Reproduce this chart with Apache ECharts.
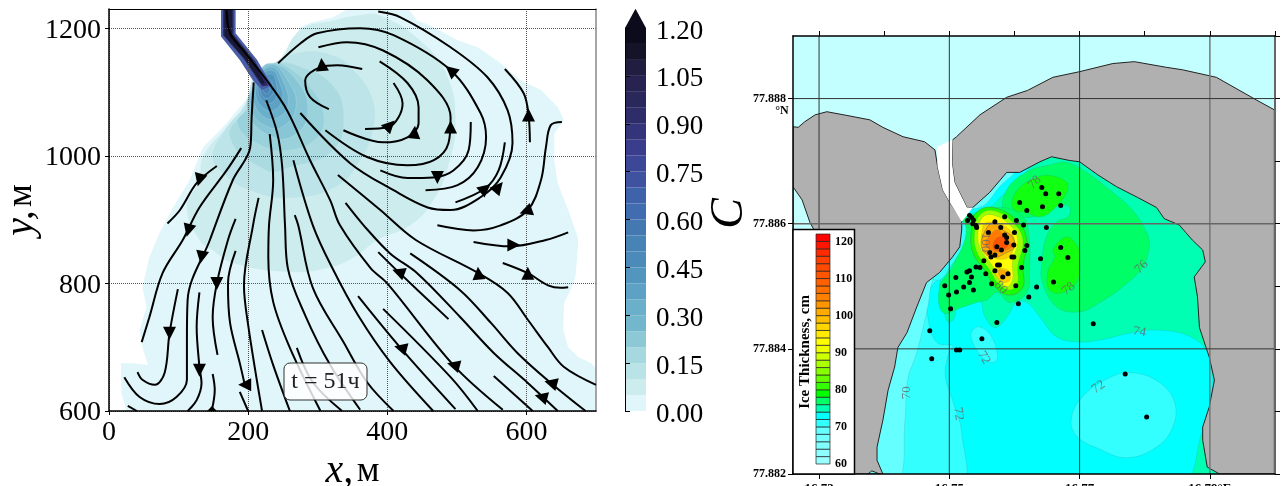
<!DOCTYPE html>
<html><head><meta charset="utf-8">
<style>html,body{margin:0;padding:0;background:#fff}#c{width:1283px;height:486px}</style>
<script src="https://cdn.jsdelivr.net/npm/echarts@6/dist/echarts.min.js"></script>
</head><body><div id="c"></div>
<script>
const SERIF='"Liberation Serif","Times New Roman",serif';
/* ---------- left panel: tracer field and streamlines, in metres ---------- */
const xTicks=[0,200,400,600];
const yTicks=[600,800,1000,1200];
const cbBandColors=['#e0f6fa','#cdecee','#bae3e7','#a6d9df','#8dc9d5','#73b7cc','#6ab0ca','#5da2c4','#5295bf','#4c8bb9','#4783b5','#4478b0','#416db0','#3f63ab','#3f52a0','#3d4798','#3a3d8b','#33347a','#2e2d6a','#2a285a','#262350','#1f1d40','#141428','#0b0b1c'];
const cbEdges=[0,.05,.1,.15,.2,.25,.3,.35,.4,.45,.5,.55,.6,.65,.7,.75,.8,.85,.9,.95,1,1.05,1.1,1.15,1.2];
const fieldOutline=[[289,1208],[322,1217],[347,1232],[429,1232],[443,1212],[462,1204],[501,1181],[530,1170],[563,1145],[592,1118],[621,1103],[645,1076],[654,1056],[640,1035],[640,993],[645,957],[660,915],[674,872],[674,857],[671,816],[668,800],[654,769],[653,727],[660,700],[674,685],[693,675],[702,664],[702,600],[25,600],[18,628],[17,675],[34,675],[56,672],[48,700],[44,727],[54,763],[48,794],[58,841],[73,880],[92,919],[116,962],[135,1013],[169,1051],[200,1092],[213,1131],[242,1145],[275,1201]];
const fieldLevels=[
 {c:'#cdecee',p:[[357,1220],[390,1220],[452,1176],[487,1123],[498,1051],[487,982],[466,930],[433,891],[386,868],[351,840],[314,824],[260,818],[178,832],[149,852],[130,868],[112,919],[130,962],[135,998],[169,1045],[200,1087],[213,1131],[242,1145],[275,1197],[322,1212]]},
 {c:'#bde4e8',p:[[236,1145],[275,1162],[322,1157],[354,1131],[379,1087],[379,1040],[361,993],[325,951],[256,934],[203,946],[167,970],[149,998],[167,1040],[195,1079],[210,1126]]},
 {c:'#abdbe1',p:[[242,1145],[275,1139],[318,1114],[337,1067],[322,1009],[256,981],[227,977],[174,1029],[200,1079],[214,1126]]},
 {c:'#9ad2dc',p:[[236,1145],[256,1139],[289,1107],[308,1067],[299,1029],[256,1009],[213,1020],[185,1051],[203,1079],[214,1126]]},
 {c:'#88c6d6',p:[[231,1145],[270,1118],[286,1071],[270,1035],[236,1029],[200,1067],[211,1118]]},
 {c:'#7abcd1',p:[[234,1143],[257,1118],[269,1079],[253,1048],[229,1045],[205,1071],[211,1118]]},
 {c:'#6ab0ca',p:[[234,1139],[251,1115],[257,1079],[243,1060],[224,1060],[208,1087],[214,1121]]},
 {c:'#5da2c4',p:[[234,1134],[246,1112],[249,1087],[237,1071],[223,1074],[211,1095],[217,1121]]},
 {c:'#5295bf',p:[[234,1128],[241,1110],[241,1092],[231,1082],[220,1087],[214,1103],[218,1118]]},
 {c:'#4c8bb9',p:[[229,1121],[236,1107],[234,1095],[226,1090],[218,1099],[220,1112]]},
 {c:'#4783b5',p:[[229,1115],[231,1106],[229,1098],[223,1099],[221,1109]]}
];
const riverBands=[
 {c:'#4a5ea8',p:[[161,1232],[182,1232],[182,1192],[213,1150],[234,1110],[220,1103],[207,1118],[188,1150],[161,1187]]},
 {c:'#2a2a66',p:[[164,1232],[179,1232],[179,1190],[210,1148],[229,1110],[220,1109],[193,1153],[164,1189]]},
 {c:'#191935',p:[[166,1232],[177,1232],[177,1190],[206,1150],[224,1114],[220,1112],[195,1152],[166,1188]]}
];
const streamlines=[
 [[169,1228],[174,1192],[193,1165],[227,1118],[256,1071],[289,993],[318,930],[332,891],[376,824],[400,800],[495,672],[566,602]],
 [[275,1067],[347,988],[409,946],[458,919],[491,915],[534,935],[563,966],[580,1020],[573,1071],[544,1123],[491,1170],[419,1217],[387,1226]],
 [[243,1145],[275,1176],[299,1192],[361,1200],[409,1189],[491,1134],[534,1067],[542,1029],[530,982],[501,954],[455,946]],
 [[301,1170],[342,1178],[394,1165],[458,1118],[491,1060],[488,1020],[467,993],[429,985],[371,998],[311,1040]],
 [[389,1148],[429,1114],[445,1076],[445,1051],[429,1029],[394,1021],[337,1040]],
 [[409,1114],[422,1082],[416,1060],[402,1045],[368,1042]],
 [[364,1136],[328,1142],[304,1139],[282,1118],[289,1092],[316,1073]],
 [[520,1053],[517,1009],[495,977],[466,966],[429,965],[390,977]],
 [[569,1021],[560,977],[541,949],[498,927]],
 [[569,1136],[596,1098],[603,1064],[605,1021]],
 [[651,1053],[635,1048],[628,1013],[621,962],[602,915],[563,891],[524,883],[472,891]],
 [[524,865],[577,858],[628,868],[660,880]],
 [[155,984],[126,957],[102,915],[84,894]],
 [[190,1012],[169,977],[130,919],[106,868],[77,816],[58,747],[47,708]],
 [[208,1115],[205,1060],[203,1013],[178,962],[145,868],[113,774],[112,711],[112,649],[97,622],[73,611],[44,622],[22,653]],
 [[226,1087],[242,1035],[249,982],[253,891],[257,824],[282,750],[318,672],[361,602]],
 [[231,1034],[236,962],[230,891],[229,840],[236,771],[260,699],[304,600]],
 [[182,901],[171,868],[155,800],[149,747],[156,688]],
 [[215,934],[207,891],[194,797],[200,735],[220,600]],
 [[182,851],[171,800],[174,738],[188,675],[195,642]],
 [[99,791],[87,722],[80,660],[66,641],[48,649],[41,661]],
 [[130,786],[126,732],[130,669],[133,644],[126,617],[113,600]],
 [[149,658],[152,633],[148,602]],
 [[188,630],[200,600]],
 [[27,608],[40,600]],
 [[220,727],[236,672],[260,600]],
 [[270,699],[293,645],[335,600]],
 [[267,907],[272,891],[293,793],[337,708],[371,645],[409,600]],
 [[265,993],[293,891],[321,824],[358,750],[404,677],[466,600]],
 [[358,780],[419,699],[498,603]],
 [[394,760],[491,653],[530,600]],
 [[387,849],[416,818],[488,744]],
 [[340,926],[366,891],[404,847],[443,816],[505,747],[553,691],[602,644],[645,600]],
 [[433,847],[505,789],[549,738],[587,691],[635,644],[685,600]],
 [[329,970],[390,915],[441,868],[531,816],[573,785],[602,743],[631,700],[654,669],[700,641]],
 [[566,832],[602,816],[631,797],[649,793],[660,794]],
 [[553,655],[609,600]]
];
const arrows=[[306,1143,5],[491,1134,50],[491,1045,0],[439,1037,-5],[404,1048,-45],[472,966,180],[541,949,-50],[560,951,-40],[603,1064,0],[599,913,110],[582,860,-90],[602,816,0],[531,816,5],[416,818,70],[419,699,75],[495,672,75],[635,644,75],[621,622,75],[130,962,165],[114,883,165],[133,841,170],[155,800,180],[87,722,180],[130,664,180],[195,641,90]];
const clippedArrow=[[141,600],[155,600],[148,608]];
/* ---------- right panel: map values as offsets: lon = 16.7 + a/1e4, lat = 77.88 + n/1e5 ---------- */
const lonTicks=[16.73,16.75,16.77,16.79];
const lonMinor=[16.73,16.74,16.75,16.76,16.77,16.78,16.79,16.8];
const latTicks=[77.882,77.884,77.886,77.888];
const latMinor=[77.882,77.883,77.884,77.885,77.886,77.887,77.888,77.889];
const seaArea=[[260,200],[999,200],[999,900],[260,900]];
const landWestTop=[[260,755],[268,754],[278,763],[294,774],[312,779],[343,773],[378,766],[398,754],[429,739],[462,731],[478,718],[482,691],[490,654],[501,634],[519,606]];
const coastWest=[[398,200],[389,222],[389,243],[398,286],[406,334],[416,371],[421,402],[435,426],[450,467],[465,506],[485,522],[505,547],[516,563],[519,590]];
const coastEast=[[536,626],[562,650],[588,682],[608,682],[639,699],[657,707],[685,701],[700,699],[728,678],[757,659],[789,642],[818,626],[830,608],[853,598],[873,574],[889,558],[893,539],[876,515],[881,483],[884,434],[899,387],[907,350],[899,307],[889,275],[889,254],[896,211],[915,200]];
const landEastTop=[[505,734],[511,739],[547,774],[588,802],[620,813],[659,834],[700,843],[751,856],[784,859],[833,850],[858,846],[910,834],[971,798],[999,782],[999,200]];
const landEastInner=[[527,626],[508,666],[504,698]];
const westBay=[[260,659],[274,638],[286,602],[294,587],[260,587]];
const channel=[[481,723],[505,734],[504,698],[508,666],[527,626],[536,626],[519,603],[501,634],[490,654],[482,691]];
const bottomPatch=[[375,200],[381,205],[393,200]];
const iceRegions=[
 {c:'#00ffff',p:[[340,180],[340,318],[390,480],[470,540],[493,534],[485,502],[490,470],[498,443],[508,450],[511,478],[524,485],[547,478],[554,453],[570,434],[588,450],[603,474],[619,474],[639,451],[665,419],[700,411],[731,414],[781,426],[818,430],[864,422],[895,398],[904,362],[902,318],[889,270],[849,180]]},
 {c:'#33ffff',p:[[516,180],[519,266],[505,318],[494,355],[498,390],[505,405],[481,410],[467,451],[470,494],[485,515],[504,546],[470,542],[363,318],[363,180]]},
 {c:'#66ffff',p:[[419,180],[432,286],[436,350],[450,394],[467,467],[475,510],[496,539],[470,550],[363,318],[363,180]]},
 {c:'#33ffff',p:[[534,427],[547,435],[565,419],[574,387],[567,378],[551,386],[536,410]]},
 {c:'#33ffff',p:[[687,286],[704,323],[746,354],[781,362],[823,346],[846,314],[843,275],[818,243],[772,226],[726,242],[697,259]]},
 {c:'#33ffff',p:[[505,498],[516,498],[522,483],[513,478]]},
 {c:'#33ffff',p:[[553,502],[562,506],[567,490],[558,483]]},
 {c:'#00ffff',p:[[528,619],[577,686],[623,694],[605,667],[582,646],[562,626],[539,614]]},
 {c:'#66ffff',p:[[534,626],[577,683],[600,683],[577,659],[554,630]]},
 {c:'#00ff66',p:[[588,654],[619,683],[654,694],[680,698],[711,682],[751,650],[781,622],[803,586],[807,563],[797,531],[766,499],[731,474],[700,459],[665,467],[643,506],[642,538],[649,579],[665,603],[682,611],[685,626],[666,630],[646,619],[623,610],[585,619]]},
 {c:'#00ff66',p:[[573,626],[614,610],[623,570],[623,526],[619,490],[593,474],[574,490],[557,478],[542,474],[519,466],[490,458],[485,499],[505,531],[521,579],[516,602]]},
 {c:'#33ffff',p:[[513,603],[525,598],[521,566],[501,530],[485,510],[470,518]]},
 {c:'#11ff11',p:[[596,635],[608,658],[634,674],[654,677],[680,666],[680,650],[659,622],[639,611],[619,618],[600,622]]},
 {c:'#11ff11',p:[[659,558],[680,579],[697,563],[700,547],[697,510],[674,490],[654,494],[651,522],[662,547]]},
 {c:'#1aff00',s:'#44aa44',p:[[534,590],[542,618],[567,626],[603,606],[619,574],[613,531],[613,499],[593,486],[570,499],[557,522],[536,554]]},
 {c:'#99ff00',p:[[539,590],[547,614],[567,621],[597,603],[613,574],[605,531],[605,506],[593,494],[574,506],[562,526],[542,555]]},
 {c:'#ffff00',p:[[544,586],[551,610],[567,614],[593,598],[605,574],[597,538],[597,510],[588,499],[577,510],[567,531],[547,562]]},
 {c:'#ffd000',p:[[550,586],[557,602],[588,594],[600,571],[590,546],[567,546],[551,563]]},
 {c:'#ffd000',p:[[570,526],[590,526],[593,510],[580,507]]},
 {c:'#ffaa00',s:'#887733',p:[[551,579],[567,602],[582,590],[597,579],[600,563],[588,554],[567,546],[551,558]]},
 {c:'#ffaa00',p:[[576,526],[587,523],[585,512],[577,517]]},
 {c:'#ff7a00',p:[[562,581],[574,590],[590,574],[596,563],[585,557],[570,555],[556,566]]},
 {c:'#ff5500',p:[[570,574],[582,579],[590,566],[580,558],[568,560]]}
];
const samplePoints=[[642,658],[648,648],[668,648],[608,634],[643,627],[671,629],[619,621],[585,611],[603,605],[570,603],[614,598],[649,594],[579,594],[560,586],[600,586],[585,582],[588,578],[588,570],[619,565],[599,566],[573,563],[671,562],[616,557],[580,558],[562,554],[564,547],[570,550],[596,547],[599,547],[682,546],[640,544],[553,541],[574,534],[577,534],[541,531],[547,530],[611,530],[531,525],[527,523],[570,525],[590,520],[556,520],[534,515],[582,515],[510,514],[531,506],[565,504],[660,507],[602,501],[493,501],[634,499],[522,499],[537,494],[511,491],[499,486],[622,483],[606,472],[502,464],[573,442],[721,440],[470,429],[550,416],[473,384],[511,398],[516,398],[770,360],[803,291],[528,605],[534,610],[537,606],[536,600],[541,597],[542,594],[531,613]];
const contourLabels=[['70',435,330,90],['72',514,296,-80],['72',553,386,-60],['80',579,498,-50],['100',556,570,-90],['78',631,666,45],['76',795,531,45],['78',683,496,40],['74',792,427,-10],['72',729,339,35]];
const legendColors=['#99ffff','#8cffff','#80ffff','#73ffff','#66ffff','#33ffff','#00ffff','#00ffb3','#00ff66','#00ff00','#33ff00','#66ff00','#88ff00','#aaff00','#ccff00','#eeff00','#ffff00','#ffea00','#ffd500','#ffbf00','#ffaa00','#ff9500','#ff8000','#ff7000','#ff6000','#ff5500','#ff4a00','#ff3f00','#ff2a00','#ff1500','#ff0000'];
const legendEdges=[60,62,64,66,68,70,72,74,76,78,80,82,84,86,88,90,92,94,96,98,100,102,104,106,108,110,112,114,116,118,120,122];

const geo=p=>[16.7+p[0]/1e4,77.88+p[1]/1e5];
function poly(points,fill,g,o={}){
  return {type:'custom',coordinateSystem:'cartesian2d',xAxisIndex:g.x,yAxisIndex:g.y,clip:o.clip!==false,silent:true,z:o.z||2,animation:false,
    data:points,encode:{x:0,y:1},
    renderItem:(params,api)=>params.dataIndex?null:{type:'polygon',shape:{points:points.map(p=>api.coord(p)),smooth:o.smooth||0},
      style:{fill:fill,stroke:o.stroke||null,lineWidth:o.lw||1}}};
}
const L={x:0,y:0},CB={x:2,y:2},M={x:3,y:3},LB={x:5,y:5};
const series=[];
series.push(poly(fieldOutline,'#e0f6fa',L));
fieldLevels.forEach((l,i)=>series.push(poly(l.p,l.c,L,{smooth:.45,stroke:i>3?'rgba(255,255,255,.25)':null,lw:.6})));
riverBands.forEach(l=>series.push(poly(l.p,l.c,L)));
streamlines.forEach(s=>series.push({type:'line',xAxisIndex:0,yAxisIndex:0,data:s,smooth:.35,showSymbol:false,silent:true,z:4,animation:false,lineStyle:{color:'#000',width:2}}));
series.push({type:'scatter',xAxisIndex:0,yAxisIndex:0,data:arrows,symbol:'triangle',symbolSize:13,symbolRotate:v=>v[2],itemStyle:{color:'#000',opacity:1},silent:true,z:5,animation:false});
series.push(poly(clippedArrow,'#000',L,{z:5}));
cbBandColors.forEach((c,i)=>series.push(poly([[0,cbEdges[i]],[1,cbEdges[i]],[1,cbEdges[i+1]],[0,cbEdges[i+1]]],c,CB,{clip:false})));
series.push(poly([[0,1.2],[1,1.2],[.5,1.26]],'#0b0b1c',CB,{clip:false}));
series.push(poly(seaArea.map(geo),'#c4ffff',M,{z:1}));
series.push(poly(coastWest.concat([[519,603]],coastEast).map(geo),'#00ffb3',M,{z:2}));
iceRegions.forEach(r=>series.push(poly(r.p.map(geo),r.c,M,{smooth:.4,z:2,stroke:r.s||'rgba(60,120,120,.25)',lw:.7})));
series.push(poly(landWestTop.concat(coastWest.slice().reverse(),[[260,200]]).map(geo),'#b0b0b0',M,{z:3,stroke:'#222',lw:1}));
series.push(poly(landEastTop.concat(coastEast.slice().reverse(),landEastInner).map(geo),'#b0b0b0',M,{z:3,stroke:'#222',lw:1}));
series.push(poly(westBay.map(geo),'#c4ffff',M,{z:3,stroke:'#222',lw:1}));
series.push(poly(channel.map(geo),'#fff',M,{z:3}));
series.push(poly(bottomPatch.map(geo),'#66ffff',M,{z:3,stroke:'#222',lw:1}));
lonTicks.forEach(v=>series.push({type:'line',xAxisIndex:3,yAxisIndex:3,data:[[v,77.882],[v,77.889]],showSymbol:false,silent:true,z:6,animation:false,lineStyle:{color:v===16.79?'#777':'#333',width:v===16.79?1.5:1}}));
latTicks.slice(1).forEach(v=>series.push({type:'line',xAxisIndex:3,yAxisIndex:3,data:[[16.726,v],[16.8,v]],showSymbol:false,silent:true,z:6,animation:false,lineStyle:{color:v===77.886?'#666':'#333',width:v===77.886?1.5:1}}));
series.push({type:'scatter',xAxisIndex:3,yAxisIndex:3,data:samplePoints.map(geo),symbol:'circle',symbolSize:5,itemStyle:{color:'#000',opacity:1},silent:true,z:7,animation:false});
series.push({type:'scatter',xAxisIndex:3,yAxisIndex:3,symbolSize:0,silent:true,z:7,animation:false,
  data:contourLabels.map(l=>({value:geo([l[1],l[2]]),label:{show:true,position:'inside',formatter:l[0],rotate:l[3],fontFamily:SERIF,fontSize:13,color:'#666'}}))});
legendColors.forEach((c,i)=>series.push(poly([[0,legendEdges[i]],[1,legendEdges[i]],[1,legendEdges[i+1]],[0,legendEdges[i+1]]],c,LB,{clip:false,z:21,stroke:'#222',lw:.7})));

const lab=(s,extra)=>Object.assign({fontFamily:SERIF,fontSize:s,color:'#000'},extra||{});
const dot={type:'dotted',color:'#555',width:1};
const hiddenAxis=(g,min,max)=>({gridIndex:g,type:'value',min,max,show:false});
const nameRich={a:{fontFamily:SERIF,fontStyle:'italic',fontSize:40,color:'#000'},b:{fontFamily:SERIF,fontSize:36,color:'#000'}};
const option={animation:false,backgroundColor:'#fff',
 grid:[
  {left:109,top:9,width:487,height:402,outerBoundsMode:'none'},
  {left:625,top:28,width:21,height:383,outerBoundsMode:'none'},
  {left:793,top:36,width:482,height:438,outerBoundsMode:'none'},
  {left:816,top:234,width:14,height:230,outerBoundsMode:'none'}],
 xAxis:[
  {gridIndex:0,type:'value',min:0,max:700,interval:200,z:3,axisLine:{lineStyle:{color:'#000',width:1.5}},axisTick:{length:4,lineStyle:{color:'#000'},customValues:xTicks},
   axisLabel:lab(28,{margin:8,customValues:xTicks,formatter:v=>String(v)}),splitLine:{show:true,lineStyle:dot},
   name:'{a|x,} {b|м}',nameLocation:'middle',nameGap:28,nameTextStyle:{rich:nameRich}},
  {gridIndex:0,type:'value',min:0,max:700,position:'top',z:3,axisLine:{show:true,onZero:false,lineStyle:{color:'#000',width:1}},axisTick:{show:false},axisLabel:{show:false},splitLine:{show:false}},
  hiddenAxis(1,0,1),
  {gridIndex:2,type:'value',min:16.726,max:16.8,z:8,axisLine:{lineStyle:{color:'#000',width:1.5}},axisTick:{length:5,lineStyle:{color:'#000'},customValues:lonTicks},
   axisLabel:lab(13,{fontWeight:'bold',margin:8,customValues:lonTicks,formatter:v=>v>16.78?v.toFixed(2)+'°E':v.toFixed(2)}),splitLine:{show:false}},
  {gridIndex:2,type:'value',min:16.726,max:16.8,position:'top',z:8,axisLine:{show:true,onZero:false,lineStyle:{color:'#000',width:1.5}},axisTick:{length:5,lineStyle:{color:'#000'},customValues:lonMinor},axisLabel:{show:false},splitLine:{show:false}},
  hiddenAxis(3,0,1)],
 yAxis:[
  {gridIndex:0,type:'value',min:600,max:1230,interval:200,z:3,axisLine:{show:true,onZero:false,lineStyle:{color:'#000',width:1.5}},axisTick:{length:4,lineStyle:{color:'#000'},customValues:yTicks},
   axisLabel:{margin:8,customValues:yTicks,formatter:v=>'{a|'+v+'}',rich:{a:{fontFamily:SERIF,fontSize:28,color:'#000',padding:[4,0,0,0]}}},splitLine:{show:true,lineStyle:dot},
   name:'{a|y,} {b|м}',nameLocation:'middle',nameGap:60,nameTextStyle:{rich:nameRich}},
  {gridIndex:0,type:'value',min:600,max:1230,position:'right',z:3,axisLine:{show:true,onZero:false,lineStyle:{color:'#888',width:1.5}},axisTick:{show:false},axisLabel:{show:false},splitLine:{show:false}},
  {gridIndex:1,type:'value',min:0,max:1.2,interval:.15,position:'right',z:3,axisLine:{show:true,lineStyle:{color:'#000',width:1}},axisTick:{length:5,lineStyle:{color:'#000'}},
   axisLabel:{margin:10,formatter:v=>'{a|'+v.toFixed(2)+'}',rich:{a:{fontFamily:SERIF,fontSize:27,color:'#000',padding:[7,0,0,0]}}},splitLine:{show:false},
   name:'C',nameLocation:'middle',nameRotate:90,nameGap:52,nameTextStyle:{fontFamily:SERIF,fontStyle:'italic',fontSize:46,color:'#000',padding:[0,0,0,12]}},
  {gridIndex:2,type:'value',min:77.882,max:77.889,z:8,axisLine:{show:true,onZero:false,lineStyle:{color:'#000',width:1.5}},axisTick:{length:5,lineStyle:{color:'#000'},customValues:latTicks},
   axisLabel:lab(12,{fontWeight:'bold',margin:7,customValues:latTicks,formatter:v=>v.toFixed(3)}),splitLine:{show:false}},
  {gridIndex:2,type:'value',min:77.882,max:77.889,position:'right',z:8,axisLine:{show:true,onZero:false,lineStyle:{color:'#666',width:2}},axisTick:{length:5,inside:false,lineStyle:{color:'#000'},customValues:latMinor},axisLabel:{show:false},splitLine:{show:false}},
  {gridIndex:3,type:'value',min:60,max:122,interval:10,position:'right',z:21,axisLine:{show:false},axisTick:{show:false},
   axisLabel:lab(12,{fontWeight:'bold',margin:5,showMaxLabel:false}),splitLine:{show:false}}],
 graphic:[
  {type:'rect',shape:{x:284,y:363,width:83,height:37,r:6},style:{fill:'rgba(255,255,255,.82)',stroke:'#333',lineWidth:1},z:30},
  {type:'text',x:325.5,y:381.5,z:31,style:{text:'t = 51ч',font:'24px '+SERIF,fill:'#222',align:'center',verticalAlign:'middle'}},
  {type:'rect',shape:{x:793,y:229.5,width:61.5,height:244.5},style:{fill:'#fff',stroke:'#000',lineWidth:1.5},z:10},
  {type:'text',x:805,y:352,rotation:Math.PI/2,z:22,style:{text:'Ice Thickness, cm',font:'bold 15px '+SERIF,fill:'#000',align:'center',verticalAlign:'middle'}},
  {type:'text',x:782,y:111,z:22,style:{text:'°N',font:'bold 12px '+SERIF,fill:'#000',align:'center',verticalAlign:'middle'}}
 ],
 series};
echarts.init(document.getElementById('c'),null,{renderer:'canvas'}).setOption(option);
</script></body></html>
